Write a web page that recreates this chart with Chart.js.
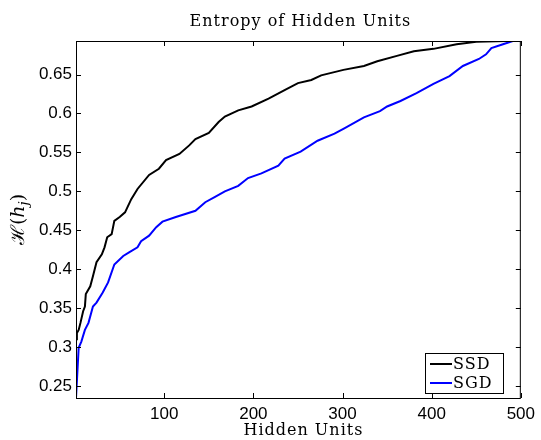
<!DOCTYPE html>
<html>
<head>
<meta charset="utf-8">
<script src="https://cdn.jsdelivr.net/npm/chart.js@4"></script>
<style>
  html, body { margin: 0; padding: 0; background: #fff; }
</style>
</head>
<body>
<canvas id="entropyChart" width="541" height="440"></canvas>
<script>
// sorted entropy of each hidden unit
const ssdUnits = [1, 2, 4, 6, 9, 11, 12, 17, 20, 24, 30, 33, 36, 41, 44, 50, 56, 63, 70, 83,
  94, 102, 117, 128, 135, 150, 161, 168, 183, 198, 217, 235, 250, 265, 276, 301, 324, 339, 361, 380,
  402, 428, 450, 483, 500];
const ssdEntropy = [0.31, 0.318, 0.322, 0.331, 0.346, 0.352, 0.368, 0.378, 0.391, 0.409,
  0.419, 0.428, 0.441, 0.445, 0.462, 0.467, 0.473, 0.490, 0.503, 0.521,
  0.529, 0.540, 0.548, 0.559, 0.567, 0.575, 0.589, 0.596, 0.604, 0.609,
  0.619, 0.630, 0.639, 0.643, 0.649, 0.656, 0.661, 0.667, 0.674, 0.680,
  0.683, 0.689, 0.692, 0.693, 0.6931];

const sgdUnits = [1, 4, 7, 11, 15, 20, 24, 31, 37, 44, 54, 61, 70, 74, 83, 91, 98, 113, 135, 146,
  157, 168, 183, 194, 209, 228, 235, 253, 272, 291, 302, 324, 342, 350, 365, 383, 402, 420, 435, 453,
  461, 467, 480, 491, 500];
const sgdEntropy = [0.2345, 0.299, 0.307, 0.322, 0.331, 0.352, 0.357, 0.370, 0.383, 0.406,
  0.417, 0.422, 0.428, 0.436, 0.443, 0.454, 0.461, 0.467, 0.475, 0.486,
  0.493, 0.500, 0.507, 0.517, 0.523, 0.533, 0.542, 0.551, 0.565, 0.574,
  0.581, 0.595, 0.603, 0.609, 0.616, 0.626, 0.638, 0.648, 0.661, 0.670,
  0.676, 0.684, 0.689, 0.693, 0.6931];

const xTicks = [100, 200, 300, 400, 500];
const yTicks = [0.25, 0.3, 0.35, 0.4, 0.45, 0.5, 0.55, 0.6, 0.65];

const SERIF = '"DejaVu Serif", "Liberation Serif", serif';
const SANS = '"Liberation Sans", Arial, sans-serif';

const toPoints = (xs, ys) => xs.map((x, i) => ({ x, y: ys[i] }));

// matlab style frame: box, inward ticks, title, labels, legend
const matlabFrame = {
  id: 'matlabFrame',
  afterDraw(chart) {
    const { ctx, chartArea: a, scales } = chart;
    const t = 5;
    ctx.save();
    ctx.strokeStyle = '#000';
    ctx.lineWidth = 1;
    ctx.strokeRect(a.left + 0.5, a.top + 0.5, a.right - a.left - 1, a.bottom - a.top);

    ctx.beginPath();
    xTicks.forEach(v => {
      const px = Math.round(scales.x.getPixelForValue(v)) + 0.5;
      ctx.moveTo(px, a.bottom); ctx.lineTo(px, a.bottom - t);
      ctx.moveTo(px, a.top); ctx.lineTo(px, a.top + t);
    });
    yTicks.forEach(v => {
      const py = Math.round(scales.y.getPixelForValue(v)) + 0.5;
      ctx.moveTo(a.left, py); ctx.lineTo(a.left + t, py);
      ctx.moveTo(a.right, py); ctx.lineTo(a.right - t, py);
    });
    ctx.stroke();

    const cx = (a.left + a.right) / 2;
    ctx.fillStyle = '#000';
    ctx.textAlign = 'center';
    ctx.textBaseline = 'alphabetic';
    ctx.font = '16px ' + SERIF;
    ctx.letterSpacing = '1px';
    ctx.fillText('Entropy of Hidden Units', cx + 2, 26);
    ctx.fillText('Hidden Units', cx + 5, 435);
    ctx.letterSpacing = '0px';

    // y label: H(h_j)
    ctx.save();
    ctx.translate(24, (a.top + a.bottom) / 2);
    ctx.rotate(-Math.PI / 2);
    const parts = [
      { s: '\u210B(', f: '19px ' + SERIF, dy: 0 },
      { s: 'h', f: 'italic 19px ' + SERIF, dy: 0 },
      { s: 'j', f: 'italic 13px ' + SERIF, dy: 4 },
      { s: ')', f: '19px ' + SERIF, dy: 0 }
    ];
    let w = 0;
    parts.forEach(p => { ctx.font = p.f; p.w = ctx.measureText(p.s).width; w += p.w; });
    let x0 = -w / 2;
    ctx.textAlign = 'left';
    parts.forEach(p => { ctx.font = p.f; ctx.fillText(p.s, x0, p.dy); x0 += p.w; });
    ctx.restore();

    // legend in the lower right corner
    const lx = 425, ly = 353, lw = 78, lh = 40;
    ctx.fillStyle = '#fff';
    ctx.fillRect(lx, ly, lw, lh);
    ctx.strokeRect(lx + 0.5, ly + 0.5, lw, lh);
    ctx.font = '16px ' + SERIF;
    ctx.letterSpacing = '1px';
    ctx.textAlign = 'left';
    ctx.textBaseline = 'middle';
    chart.data.datasets.forEach((ds, i) => {
      const y = ly + 11 + i * 19;
      ctx.strokeStyle = ds.borderColor;
      ctx.lineWidth = 2;
      ctx.beginPath(); ctx.moveTo(lx + 5, y); ctx.lineTo(lx + 27, y); ctx.stroke();
      ctx.fillStyle = '#000';
      ctx.fillText(ds.label, lx + 28, y + 1);
    });
    ctx.restore();
  }
};

new Chart(document.getElementById('entropyChart'), {
  type: 'line',
  data: {
    datasets: [
      { label: 'SSD', data: toPoints(ssdUnits, ssdEntropy), borderColor: '#000000', borderWidth: 2, pointRadius: 0, tension: 0 },
      { label: 'SGD', data: toPoints(sgdUnits, sgdEntropy), borderColor: '#0000ff', borderWidth: 2, pointRadius: 0, tension: 0 }
    ]
  },
  options: {
    responsive: false,
    animation: false,
    devicePixelRatio: 1,
    layout: { padding: { top: 41, right: 16, left: 0, bottom: 0 } },
    plugins: { legend: { display: false }, title: { display: false }, tooltip: { enabled: false } },
    scales: {
      x: {
        type: 'linear', min: 1, max: 500,
        grid: { display: false, drawTicks: false }, border: { display: false },
        ticks: { color: '#000', font: { family: SANS, size: 17 }, padding: 6, maxRotation: 0 },
        afterBuildTicks: s => { s.ticks = xTicks.map(v => ({ value: v })); },
        afterFit: s => { s.height = 42; }
      },
      y: {
        type: 'linear', min: 0.2345, max: 0.6931,
        grid: { display: false, drawTicks: false }, border: { display: false },
        ticks: { color: '#000', font: { family: SANS, size: 17 }, padding: 4, callback: v => String(v) },
        afterBuildTicks: s => { s.ticks = yTicks.map(v => ({ value: v })); },
        afterFit: s => { s.width = 76; }
      }
    }
  },
  plugins: [matlabFrame]
});
</script>
</body>
</html>
